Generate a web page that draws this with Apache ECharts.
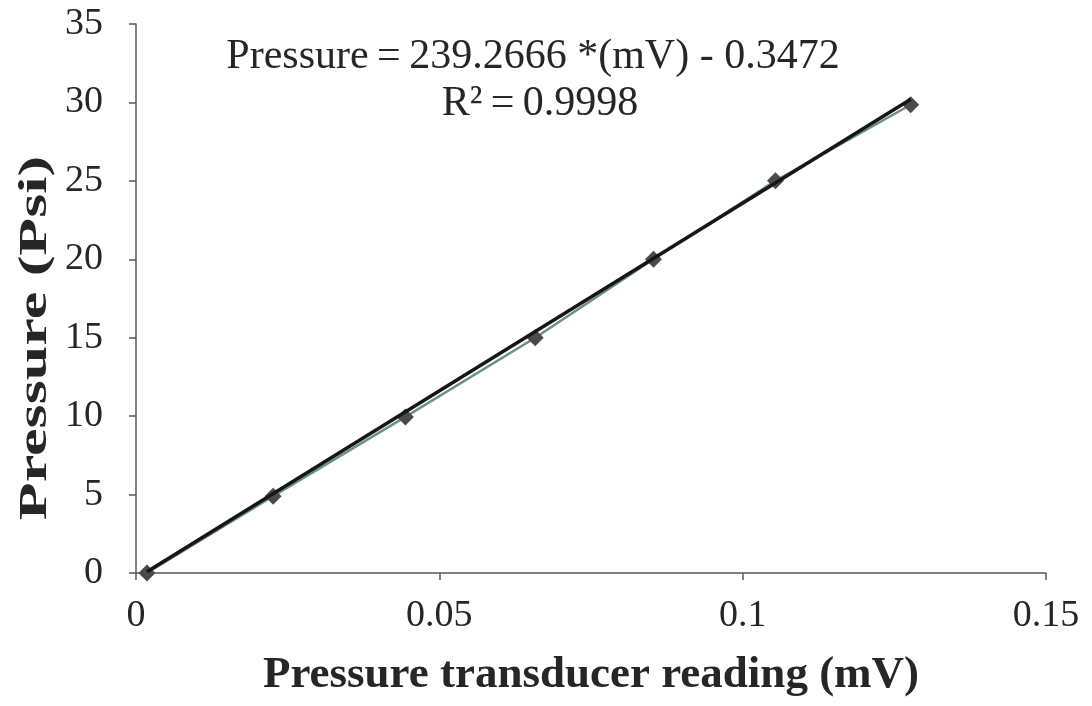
<!DOCTYPE html>
<html>
<head>
<meta charset="utf-8">
<script src="https://cdn.jsdelivr.net/npm/echarts@6/dist/echarts.min.js"></script>
<style>
  html, body { margin: 0; padding: 0; background: #fff; }
  #chart { width: 1092px; height: 706px; }
</style>
</head>
<body>
<div id="chart"></div>
<script>
// Calibration readings: transducer output (mV) vs applied pressure (psi)
const readingsMv = [0.0018, 0.0226, 0.0444, 0.0658, 0.0853, 0.1054, 0.1277];
const pressurePsi = [0, 4.9, 9.95, 15.0, 20, 25.0, 29.85];

// Linear fit reported on the chart
const fitSlope = 239.2666;
const fitIntercept = -0.3472;
const fitR2 = '0.9998';

const xTicks = [0, 0.05, 0.1, 0.15];
const yTicks = [0, 5, 10, 15, 20, 25, 30, 35];

const points = readingsMv.map((x, i) => [x, pressurePsi[i]]);
const xStart = readingsMv[0];
const xEnd = readingsMv[readingsMv.length - 1];
const fitLine = [
  [xStart, fitSlope * xStart + fitIntercept],
  [xEnd, fitSlope * xEnd + fitIntercept]
];

const serif = '"Liberation Serif", "Times New Roman", serif';
const axisColor = '#5a5a5a';
const textColor = '#262626';

const chart = echarts.init(document.getElementById('chart'), null, { renderer: 'canvas' });
chart.setOption({
  backgroundColor: '#fff',
  animation: false,
  grid: { left: 136, right: 46, top: 24, bottom: 133, containLabel: false, outerBoundsMode: 'none' },
  xAxis: {
    type: 'value',
    min: xTicks[0],
    max: xTicks[xTicks.length - 1],
    interval: 0.05,
    name: 'Pressure transducer reading (mV)',
    nameLocation: 'middle',
    nameGap: 80,
    nameTextStyle: { fontFamily: serif, fontWeight: 'bold', fontSize: 45, color: textColor },
    axisLine: { lineStyle: { color: axisColor, width: 1.5 } },
    axisTick: { show: true, length: 7, inside: false, lineStyle: { color: axisColor, width: 1.5 } },
    axisLabel: {
      fontFamily: serif, fontSize: 38, color: textColor, margin: 24,
      formatter: v => String(v)
    },
    splitLine: { show: false }
  },
  yAxis: {
    type: 'value',
    min: yTicks[0],
    max: yTicks[yTicks.length - 1],
    interval: 5,
    axisLine: { show: true, lineStyle: { color: axisColor, width: 1.5 } },
    axisTick: { show: true, length: 7, inside: false, lineStyle: { color: axisColor, width: 1.5 } },
    axisLabel: { fontFamily: serif, fontSize: 38, color: textColor, margin: 33 },
    splitLine: { show: false }
  },
  series: [
    {
      name: 'Calibration',
      type: 'line',
      data: points,
      symbol: 'diamond',
      symbolSize: 17,
      lineStyle: { color: '#6a9088', width: 2.5 },
      itemStyle: { color: '#4a4a4a' },
      z: 2
    },
    {
      name: 'Linear fit',
      type: 'line',
      data: fitLine,
      symbol: 'none',
      lineStyle: { color: '#161616', width: 3.5 },
      z: 3
    }
  ],
  graphic: [
    {
      // vertical axis title, drawn tall and narrow
      type: 'text',
      x: 36, y: 338,
      rotation: Math.PI / 2,
      scaleX: 1.55,
      style: {
        text: 'Pressure (Psi)',
        fontFamily: serif, fontWeight: 'bold', fontSize: 40, fill: textColor,
        align: 'center', verticalAlign: 'middle'
      }
    },
    {
      type: 'text',
      x: 533, y: 57,
      style: {
        text: 'Pressure\u2009=\u2009' + fitSlope + ' *(mV) - ' + Math.abs(fitIntercept),
        fontFamily: serif, fontSize: 42, fill: textColor,
        align: 'center', verticalAlign: 'middle'
      }
    },
    {
      type: 'text',
      x: 540, y: 104,
      style: {
        text: 'R²\u2009=\u2009' + fitR2,
        fontFamily: serif, fontSize: 42, fill: textColor,
        align: 'center', verticalAlign: 'middle'
      }
    }
  ]
});
</script>
</body>
</html>
